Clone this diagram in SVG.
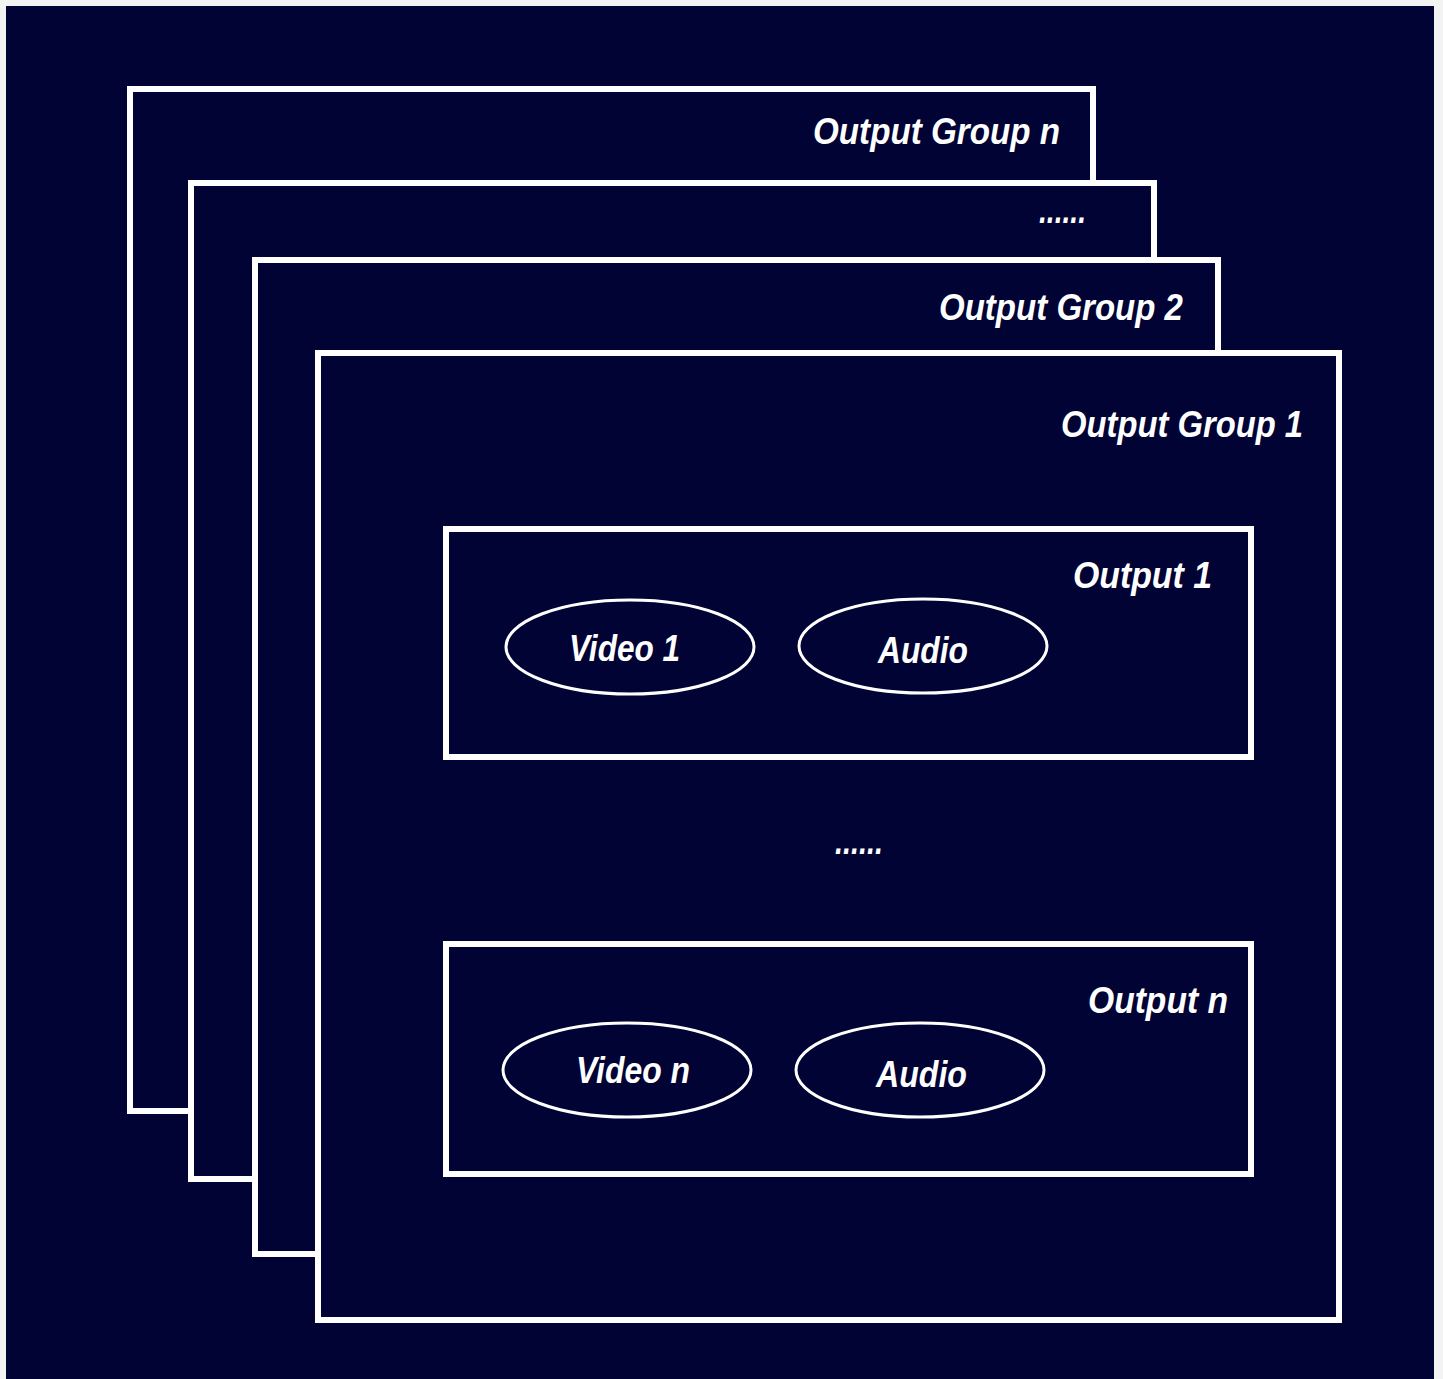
<svg xmlns="http://www.w3.org/2000/svg" width="1443" height="1379" viewBox="0 0 1443 1379">
  <style>
    .box { fill: #000334; stroke: #ffffff; stroke-width: 6; }
    .oval { fill: #000334; stroke: #ffffff; stroke-width: 3; }
    .lbl { font-family: "Liberation Sans", Arial, sans-serif; font-weight: bold; font-style: italic; font-size: 36px; fill: #ffffff; }
  </style>
  <rect x="0" y="0" width="1443" height="1379" fill="#f3f3f3"/>
  <rect x="6" y="6" width="1428" height="1373" fill="#000334"/>

  <g id="output-group-n">
    <rect class="box" x="130" y="89" width="963" height="1022"/>
    <text class="lbl" x="813" y="144" textLength="247" lengthAdjust="spacingAndGlyphs">Output Group n</text>
  </g>

  <g id="output-group-etc">
    <rect class="box" x="191" y="183" width="963" height="996"/>
    <text class="lbl" x="1039" y="223" textLength="47" lengthAdjust="spacingAndGlyphs">......</text>
  </g>

  <g id="output-group-2">
    <rect class="box" x="255" y="260" width="963" height="994"/>
    <text class="lbl" x="939" y="320" textLength="244" lengthAdjust="spacingAndGlyphs">Output Group 2</text>
  </g>

  <g id="output-group-1">
    <rect class="box" x="318" y="353" width="1021" height="967"/>
    <text class="lbl" x="1061" y="437" textLength="242" lengthAdjust="spacingAndGlyphs">Output Group 1</text>
    <text class="lbl" x="835" y="854" textLength="48" lengthAdjust="spacingAndGlyphs">......</text>
  </g>

  <g id="output-1">
    <rect class="box" x="446" y="529" width="805" height="228"/>
    <text class="lbl" x="1073" y="588" textLength="139" lengthAdjust="spacingAndGlyphs">Output 1</text>
  </g>

  <g id="video-1">
    <ellipse class="oval" cx="630" cy="647" rx="124" ry="47"/>
    <text class="lbl" x="569" y="661" textLength="111" lengthAdjust="spacingAndGlyphs">Video 1</text>
  </g>

  <g id="audio-1">
    <ellipse class="oval" cx="923" cy="646" rx="124" ry="47"/>
    <text class="lbl" x="878" y="663" textLength="90" lengthAdjust="spacingAndGlyphs">Audio</text>
  </g>

  <g id="output-n">
    <rect class="box" x="446" y="944" width="805" height="230"/>
    <text class="lbl" x="1088" y="1013" textLength="140" lengthAdjust="spacingAndGlyphs">Output n</text>
  </g>

  <g id="video-n">
    <ellipse class="oval" cx="627" cy="1070" rx="124" ry="47"/>
    <text class="lbl" x="576" y="1083" textLength="114" lengthAdjust="spacingAndGlyphs">Video n</text>
  </g>

  <g id="audio-n">
    <ellipse class="oval" cx="920" cy="1070" rx="124" ry="47"/>
    <text class="lbl" x="876" y="1087" textLength="91" lengthAdjust="spacingAndGlyphs">Audio</text>
  </g>

  <g id="connectors"></g>
</svg>
